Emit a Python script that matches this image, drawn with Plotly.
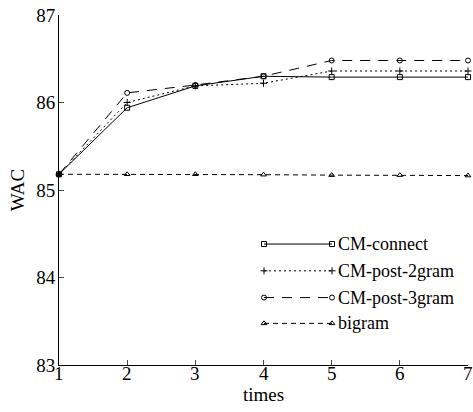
import plotly.graph_objects as go

times = [1, 2, 3, 4, 5, 6, 7]
cm_connect = [85.18, 85.94, 86.19, 86.30, 86.29, 86.29, 86.29]
cm_post_2gram = [85.18, 86.00, 86.19, 86.22, 86.36, 86.36, 86.36]
cm_post_3gram = [85.18, 86.11, 86.20, 86.30, 86.48, 86.48, 86.48]
bigram = [85.18, 85.18, 85.18, 85.175, 85.17, 85.17, 85.165]
y_ticks = [83, 84, 85, 86, 87]

names = ["CM-connect", "CM-post-2gram", "CM-post-3gram", "bigram"]
series = [cm_connect, cm_post_2gram, cm_post_3gram, bigram]
dashes = ["solid", "2px,3px", "10px,8px", "5px,4px"]
symbols = ["square-open", "cross-thin-open", "circle-open", "triangle-up-open"]
msizes = [5, 5, 5, 5]

FONT = "Liberation Serif, Times New Roman, serif"
L, R, T, B = 59, 5, 12, 47
W, H = 473, 412

fig = go.Figure()
for nm, ys, d, s, ms in zip(names, series, dashes, symbols, msizes):
    fig.add_trace(go.Scatter(
        x=times, y=ys, mode="lines+markers", name=nm, showlegend=False,
        line=dict(color="black", width=1, dash=d),
        marker=dict(symbol=s, size=ms, color="black", line=dict(color="black", width=1)),
        cliponaxis=False,
    ))

# custom legend in pixel coordinates of the plot area
leg_y = [243, 270, 297, 323]
leg_x0, leg_x1, leg_tx = 264, 332, 336
for nm, d, s, ms, yy in zip(names, dashes, symbols, msizes, leg_y):
    fig.add_trace(go.Scatter(
        x=[leg_x0, leg_x1], y=[yy, yy], xaxis="x2", yaxis="y2",
        mode="lines+markers", showlegend=False, hoverinfo="skip",
        line=dict(color="black", width=1, dash=d),
        marker=dict(symbol=s, size=ms, color="black", line=dict(color="black", width=1)),
    ))
    fig.add_annotation(x=leg_tx, y=yy, xref="x2", yref="y2", text=nm,
                       showarrow=False, xanchor="left", yanchor="middle",
                       font=dict(family=FONT, size=18, color="black"))

# x tick labels placed on the x scale
for t in times:
    fig.add_annotation(x=t, y=0, xref="x", yref="paper", text=str(t),
                       showarrow=False, xanchor="center", yanchor="top", yshift=4,
                       font=dict(family=FONT, size=19, color="black"))
fig.add_annotation(x=0.5, y=0, xref="paper", yref="paper", text="times",
                   showarrow=False, xanchor="center", yanchor="middle", yshift=-29,
                   font=dict(family=FONT, size=19, color="black"))

fig.update_layout(
    width=W, height=H,
    margin=dict(l=L, r=R, t=T, b=B),
    paper_bgcolor="white", plot_bgcolor="white",
    font=dict(family=FONT, size=19, color="black"),
    xaxis=dict(range=[1, 7], tickvals=times, ticks="inside", ticklen=5,
               showticklabels=False,
               showgrid=False, zeroline=False, showline=True, linecolor="black",
               linewidth=1),
    yaxis=dict(range=[83, 87], tickvals=y_ticks, ticks="inside",
               ticklen=5, showgrid=False, zeroline=False, showline=True,
               linecolor="black", linewidth=1, ticklabelstandoff=-1,
               title=dict(text="WAC", standoff=6, font=dict(family=FONT, size=19)),
               tickfont=dict(family=FONT, size=19)),
    xaxis2=dict(range=[L, W - R], overlaying="x", visible=False, fixedrange=True),
    yaxis2=dict(range=[H - B, T], overlaying="y", visible=False, fixedrange=True),
)

fig.write_html("out.html", config={"displayModeBar": False},
               post_script="document.body.style.margin='0';document.body.style.padding='0';")
